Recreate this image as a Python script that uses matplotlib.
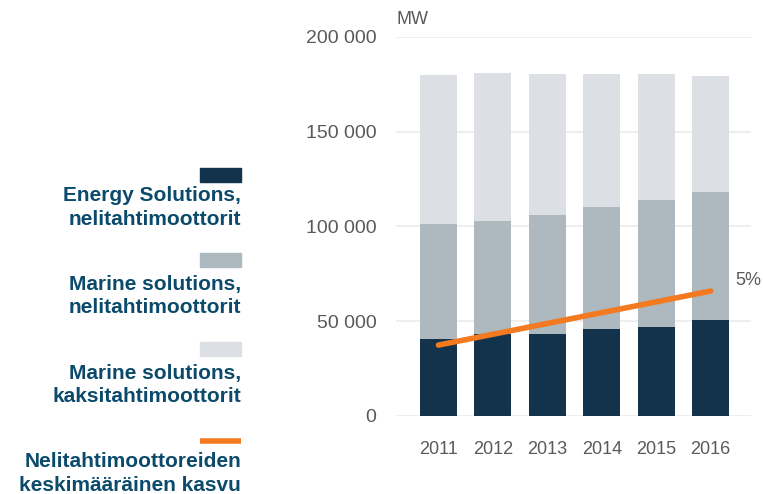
import matplotlib
matplotlib.use("Agg")
import matplotlib.pyplot as plt
from matplotlib.patches import Rectangle
from matplotlib.lines import Line2D
import numpy as np

years = ["2011", "2012", "2013", "2014", "2015", "2016"]
energy_4stroke = [40600, 43100, 43400, 45900, 46900, 50600]
marine_4stroke = [60600, 59700, 62600, 64300, 67000, 67500]
marine_2stroke = [78400, 78200, 74300, 70100, 66400, 61200]
growth_x = ["2011", "2016"]
growth_y = [37400, 65900]
growth_label = "5%"
yticks = [0, 50000, 100000, 150000, 200000]
ytick_labels = ["0", "50 000", "100 000", "150 000", "200 000"]
legend_labels = [
    "Energy Solutions,\nnelitahtimoottorit",
    "Marine solutions,\nnelitahtimoottorit",
    "Marine solutions,\nkaksitahtimoottorit",
    "Nelitahtimoottoreiden\nkeskimääräinen kasvu",
]

c_dark = "#12334b"
c_mid = "#adb8bf"
c_light = "#dce0e4"
c_orange = "#f47a22"
c_text = "#0b4a6b"
c_grey = "#5a5a5a"

plt.rcParams["font.family"] = ["Liberation Sans", "DejaVu Sans"]

W, H = 763, 494
fig = plt.figure(figsize=(W / 100, H / 100), dpi=100)
ax = fig.add_axes([396 / W, 1 - 416 / H, (751 - 396) / W, (416 - 36.7) / H])

x = np.arange(len(years))
bw = 0.68
b1 = np.array(energy_4stroke)
b2 = np.array(marine_4stroke)
b3 = np.array(marine_2stroke)
ax.bar(x, b1, bw, color=c_dark, zorder=2)
ax.bar(x, b2, bw, bottom=b1, color=c_mid, zorder=2)
ax.bar(x, b3, bw, bottom=b1 + b2, color=c_light, zorder=2)

gx = [years.index(g) for g in growth_x]
ax.plot(gx, growth_y, color=c_orange, lw=4, solid_capstyle="round", zorder=3)
ax.text(gx[-1] + 0.45, growth_y[-1] + 5800, growth_label, color=c_grey,
        fontsize=13, ha="left", va="center")

ax.set_xlim(-0.78, 5.74)
ax.set_ylim(0, 200000)
ax.set_yticks(yticks)
ax.set_yticklabels(ytick_labels)
ax.set_xticks(x)
ax.set_xticklabels(years)
ax.tick_params(axis="both", length=0, colors=c_grey)
ax.tick_params(axis="y", pad=14, labelsize=14)
ax.tick_params(axis="x", pad=18, labelsize=13)
ax.grid(axis="y", color="#ebebeb", lw=1.2, zorder=0)
for s in ax.spines.values():
    s.set_visible(False)

fig.text(397 / W, 1 - 20 / H, "MW", color=c_grey, fontsize=13, ha="left", va="center")

# custom legend
patch_tops = [168, 253.3, 342]
colors = [c_dark, c_mid, c_light]
for top, col in zip(patch_tops, colors):
    fig.patches.append(Rectangle((200 / W, 1 - (top + 13.7) / H), 41 / W, 13.7 / H,
                                 transform=fig.transFigure, color=col))
fig.lines.append(Line2D([200 / W, 241 / W], [1 - 441 / H, 1 - 441 / H],
                        transform=fig.transFigure, color=c_orange, lw=4,
                        solid_capstyle="butt"))
text_centers = [207.5, 296, 385, 473.5]
for yc, lab in zip(text_centers, legend_labels):
    fig.text(241 / W, 1 - yc / H, lab, color=c_text, fontsize=15, fontweight="bold",
             ha="right", va="center", linespacing=1.3)

fig.savefig("out.png", dpi=100)
